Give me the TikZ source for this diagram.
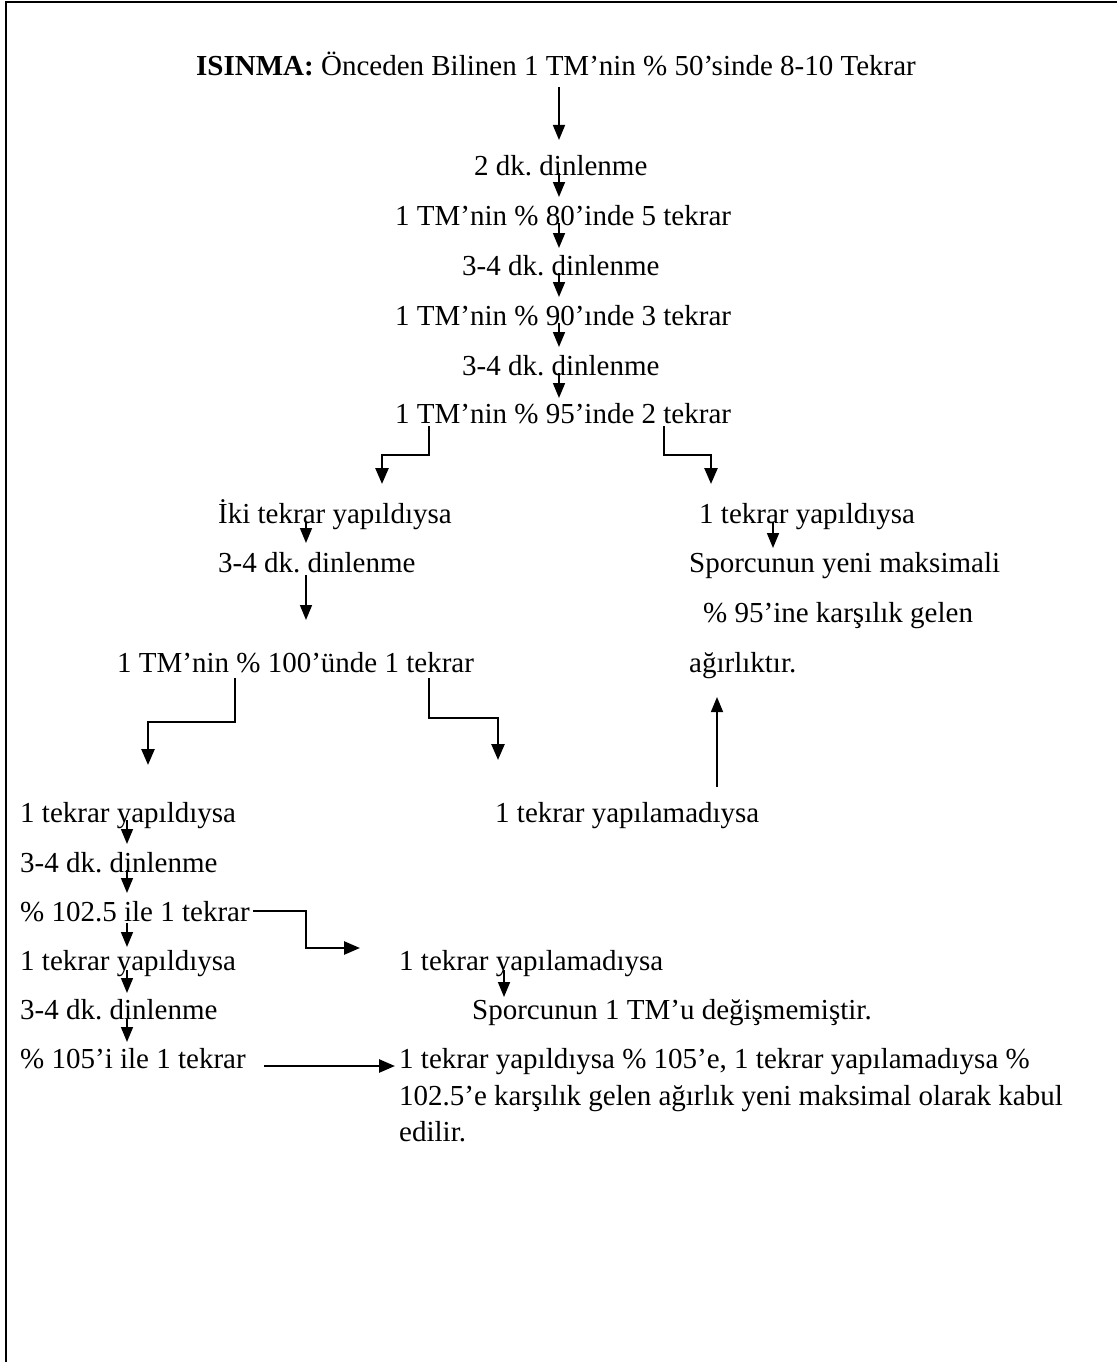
\documentclass[tikz,border=0pt]{standalone}
\usepackage{fontspec}
\setmainfont{Liberation Serif}
\usetikzlibrary{arrows.meta}
\frenchspacing
\tikzset{
  txt/.style={anchor=base west, inner sep=0pt, font=\fontsize{29}{34}\selectfont},
  arr/.style={line width=1.6pt, -{Triangle[length=15pt,width=12pt]}},
  barr/.style={line width=2.6pt, -{Triangle[length=16pt,width=13pt]}},
  frame/.style={line width=2.2pt}
}
\begin{document}
\begin{tikzpicture}[x=1pt,y=-1pt]
\useasboundingbox (0,0) rectangle (1117,1362);
\fill[white] (0,0) rectangle (1117,1362);
\coordinate (fa) at (6,1362);
\coordinate (fb) at (6,2);
\coordinate (fc) at (1117,2);
\draw[frame] (fa) -- (fb) -- (fc);

% text nodes
\node[txt] (title) at (196,76) {\textbf{ISINMA:} Önceden Bilinen 1 TM’nin \% 50’sinde 8-10 Tekrar};
\node[txt] (r1) at (474,175) {2 dk. dinlenme};
\node[txt] (s1) at (395,225) {1 TM’nin \% 80’inde 5 tekrar};
\node[txt] (r2) at (462,275) {3-4 dk. dinlenme};
\node[txt] (s2) at (395,325) {1 TM’nin \% 90’ınde 3 tekrar};
\node[txt] (r3) at (462,375) {3-4 dk. dinlenme};
\node[txt] (s3) at (395,423) {1 TM’nin \% 95’inde 2 tekrar};
\node[txt] (L1) at (218,523) {İki tekrar yapıldıysa};
\node[txt] (L2) at (218,572) {3-4 dk. dinlenme};
\node[txt] (L3) at (117,672) {1 TM’nin \% 100’ünde 1 tekrar};
\node[txt] (R1) at (699,523) {1 tekrar yapıldıysa};
\node[txt] (R2) at (689,572) {Sporcunun yeni maksimali};
\node[txt] (R3) at (703,622) {\% 95’ine karşılık gelen};
\node[txt] (R4) at (689,672) {ağırlıktır.};
\node[txt] (A1) at (20,822) {1 tekrar yapıldıysa};
\node[txt] (B1) at (495,822) {1 tekrar yapılamadıysa};
\node[txt] (A2) at (20,872) {3-4 dk. dinlenme};
\node[txt] (A3) at (20,921) {\% 102.5 ile 1 tekrar};
\node[txt] (A4) at (20,970) {1 tekrar yapıldıysa};
\node[txt] (C1) at (399,970) {1 tekrar yapılamadıysa};
\node[txt] (A5) at (20,1019) {3-4 dk. dinlenme};
\node[txt] (C2) at (472,1019) {Sporcunun 1 TM’u değişmemiştir.};
\node[txt] (A6) at (20,1068) {\% 105’i ile 1 tekrar};
\node[txt] (P1) at (399,1068) {1 tekrar yapıldıysa \% 105’e, 1 tekrar yapılamadıysa \%};
\node[txt] (P2) at (399,1105) {102.5’e karşılık gelen ağırlık yeni maksimal olarak kabul};
\node[txt] (P3) at (399,1141) {edilir.};

% connector end points
\coordinate (t0) at (559,87);   \coordinate (t1) at (559,140);
\coordinate (c1a) at (559,173); \coordinate (c1b) at (559,197);
\coordinate (c2a) at (559,223); \coordinate (c2b) at (559,248);
\coordinate (c3a) at (559,273); \coordinate (c3b) at (559,297);
\coordinate (c4a) at (559,323); \coordinate (c4b) at (559,347);
\coordinate (c5a) at (559,373); \coordinate (c5b) at (559,398);
\coordinate (lb0) at (429,426); \coordinate (lb1) at (429,455); \coordinate (lb2) at (382,455); \coordinate (lb3) at (382,484);
\coordinate (rb0) at (664,426); \coordinate (rb1) at (664,455); \coordinate (rb2) at (711,455); \coordinate (rb3) at (711,484);
\coordinate (l1a) at (306,522); \coordinate (l1b) at (306,543);
\coordinate (l2a) at (306,575); \coordinate (l2b) at (306,620);
\coordinate (q1a) at (773,522); \coordinate (q1b) at (773,548);
\coordinate (hb0) at (235,678); \coordinate (hb1) at (235,722); \coordinate (hb2) at (148,722); \coordinate (hb3) at (148,765);
\coordinate (kb0) at (429,678); \coordinate (kb1) at (429,718); \coordinate (kb2) at (498,718); \coordinate (kb3) at (498,760);
\coordinate (up0) at (717,787); \coordinate (up1) at (717,697);
\coordinate (d1a) at (127,820); \coordinate (d1b) at (127,844);
\coordinate (d2a) at (127,870); \coordinate (d2b) at (127,893);
\coordinate (d3a) at (127,923); \coordinate (d3b) at (127,947);
\coordinate (m0) at (253,911); \coordinate (m1) at (306,911); \coordinate (m2) at (306,948); \coordinate (m3) at (360,948);
\coordinate (d4a) at (127,970); \coordinate (d4b) at (127,993);
\coordinate (e1a) at (504,970); \coordinate (e1b) at (504,997);
\coordinate (d5a) at (127,1019); \coordinate (d5b) at (127,1042);
\coordinate (f0) at (264,1066); \coordinate (f1) at (395,1066);

% connectors
\draw[arr] (t0) -- (t1);
\draw[arr] (c1a) -- (c1b);
\draw[arr] (c2a) -- (c2b);
\draw[arr] (c3a) -- (c3b);
\draw[arr] (c4a) -- (c4b);
\draw[arr] (c5a) -- (c5b);
\draw[barr] (lb0) -- (lb1) -- (lb2) -- (lb3);
\draw[barr] (rb0) -- (rb1) -- (rb2) -- (rb3);
\draw[arr] (l1a) -- (l1b);
\draw[arr] (l2a) -- (l2b);
\draw[arr] (q1a) -- (q1b);
\draw[barr] (hb0) -- (hb1) -- (hb2) -- (hb3);
\draw[barr] (kb0) -- (kb1) -- (kb2) -- (kb3);
\draw[arr] (up0) -- (up1);
\draw[arr] (d1a) -- (d1b);
\draw[arr] (d2a) -- (d2b);
\draw[arr] (d3a) -- (d3b);
\draw[barr] (m0) -- (m1) -- (m2) -- (m3);
\draw[arr] (d4a) -- (d4b);
\draw[arr] (e1a) -- (e1b);
\draw[arr] (d5a) -- (d5b);
\draw[barr] (f0) -- (f1);
\end{tikzpicture}
\end{document}
